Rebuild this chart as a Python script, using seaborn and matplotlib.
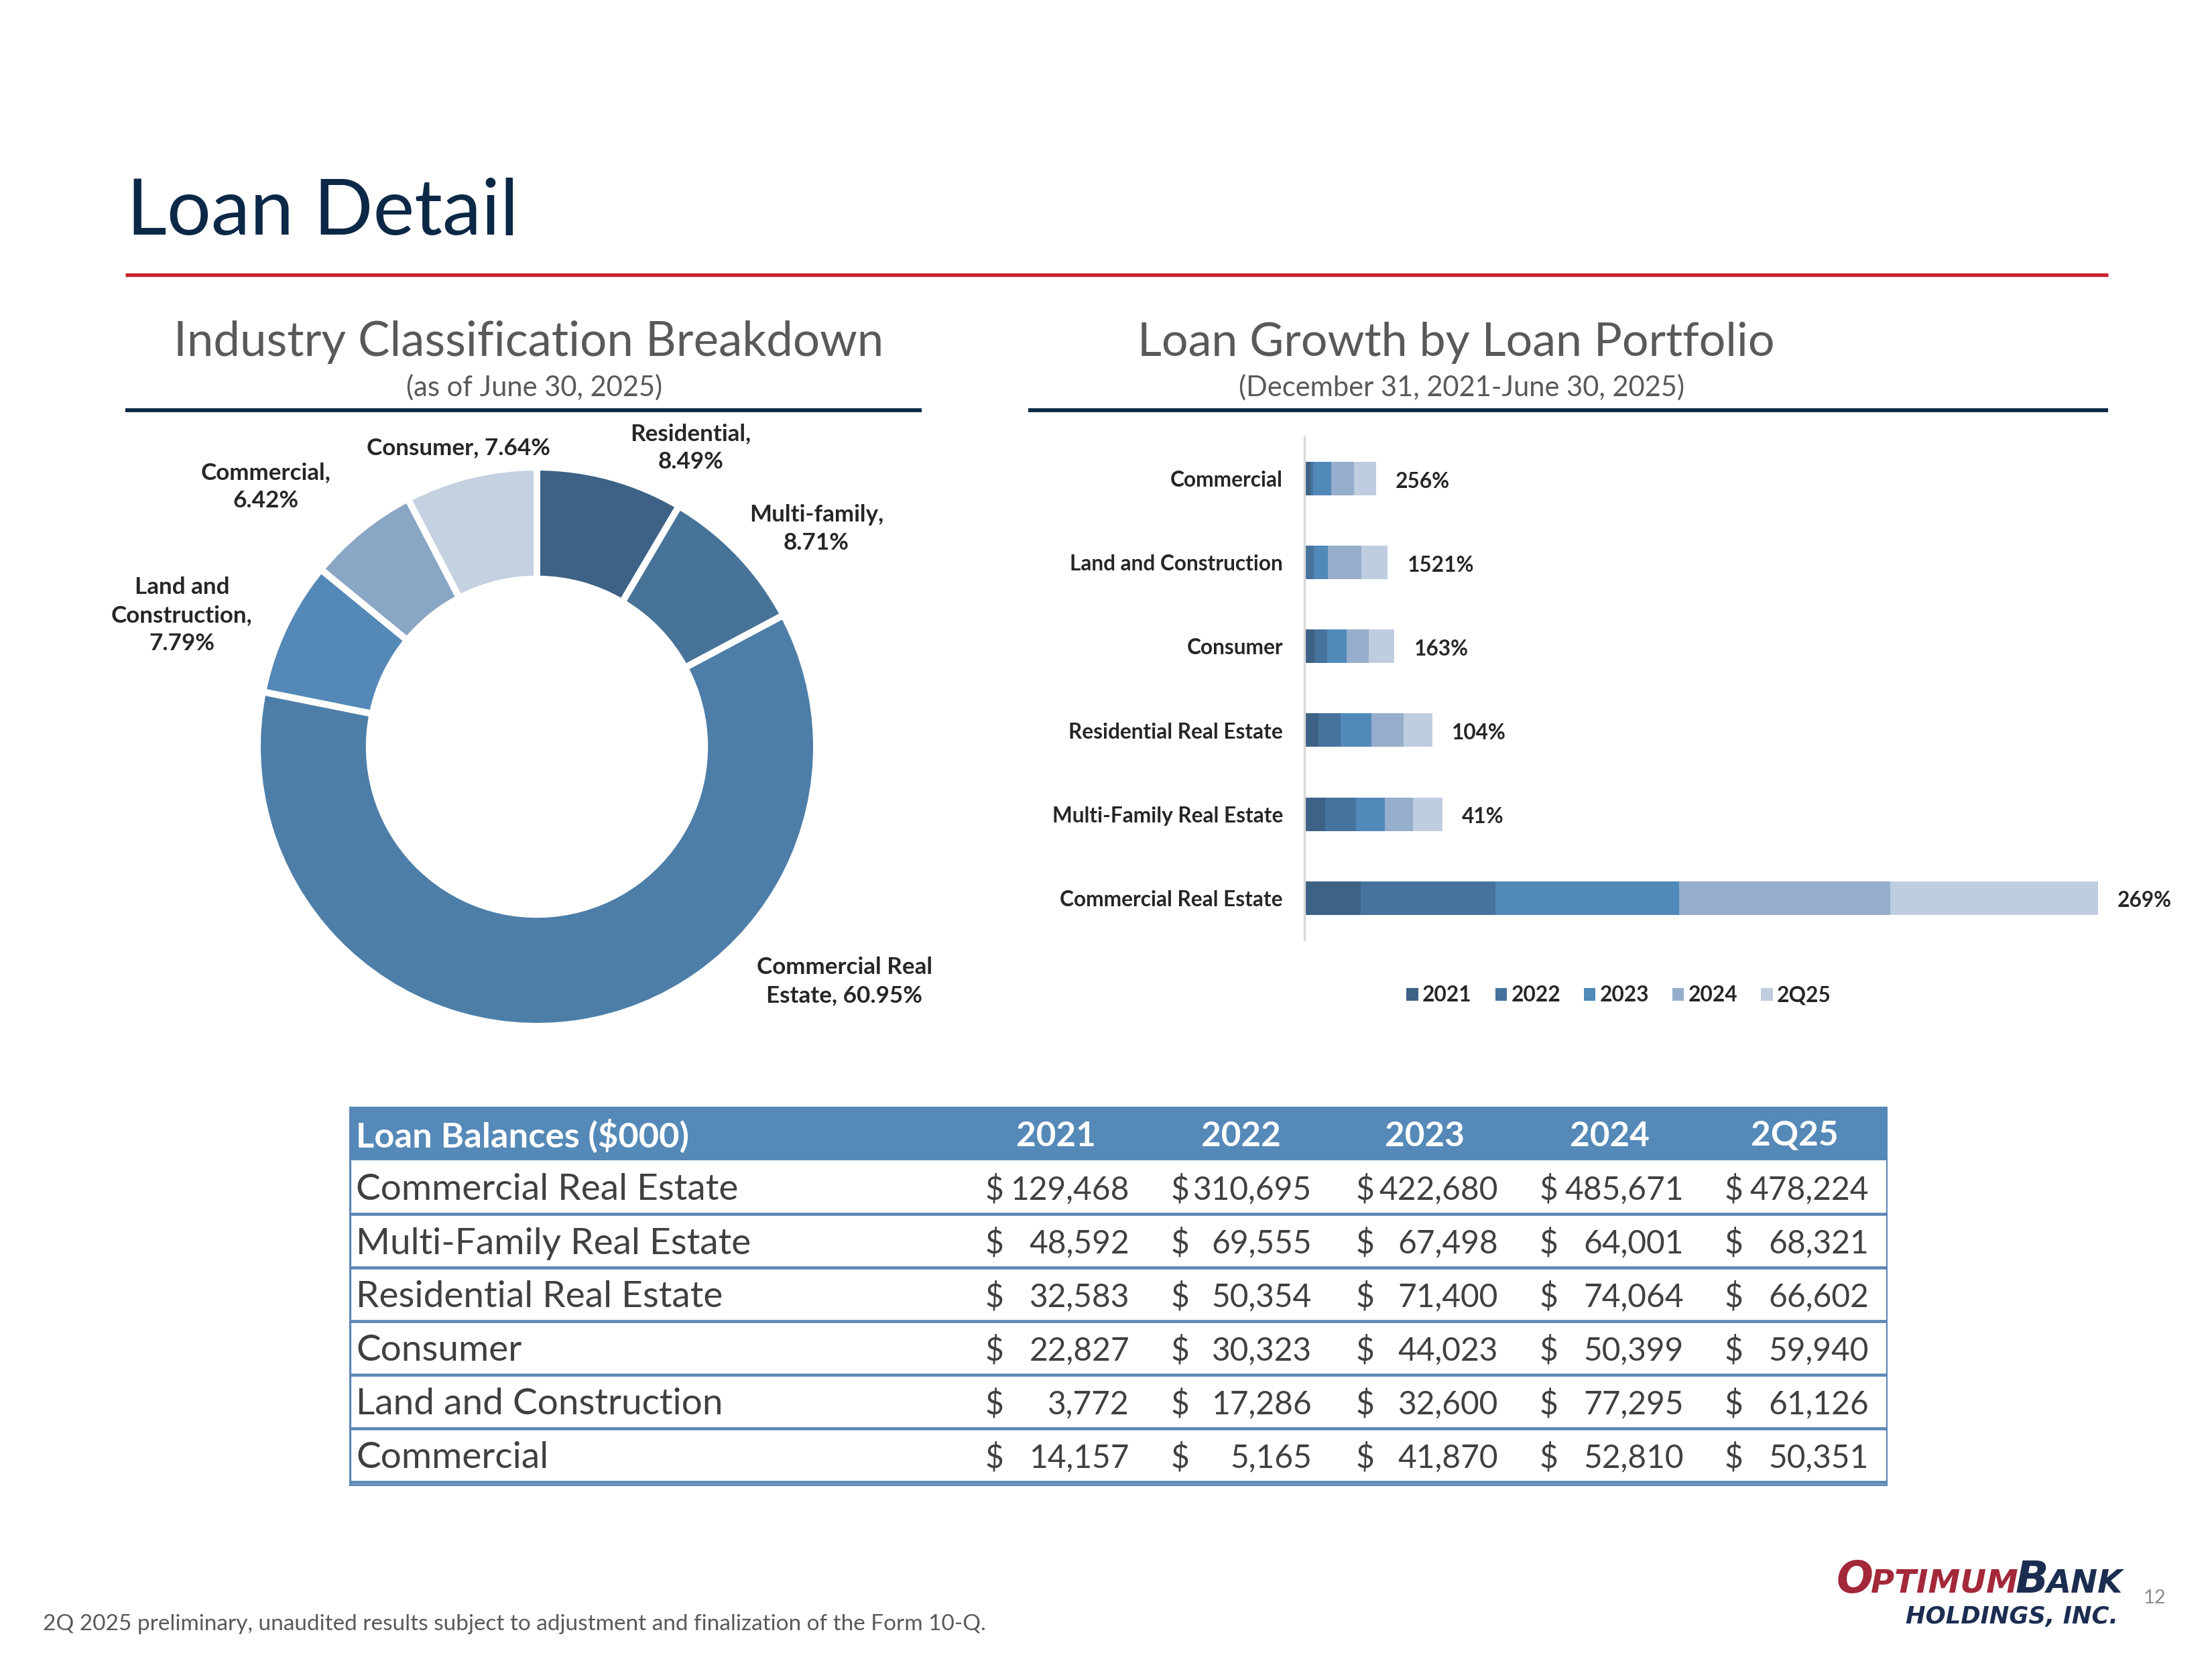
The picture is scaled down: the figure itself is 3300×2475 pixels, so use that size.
import pandas as pd
import seaborn as sns
import matplotlib.pyplot as plt
from matplotlib.lines import Line2D
from matplotlib.patches import Patch

W, H = 3300, 2475

# loan balances ($000), in table order
categories = ['Commercial Real Estate', 'Multi-Family Real Estate', 'Residential Real Estate',
              'Consumer', 'Land and Construction', 'Commercial']
periods = ['2021', '2022', '2023', '2024', '2Q25']
bal_2021 = [129468, 48592, 32583, 22827, 3772, 14157]
bal_2022 = [310695, 69555, 50354, 30323, 17286, 5165]
bal_2023 = [422680, 67498, 71400, 44023, 32600, 41870]
bal_2024 = [485671, 64001, 74064, 50399, 77295, 52810]
bal_2q25 = [478224, 68321, 66602, 59940, 61126, 50351]

# industry mix as of June 30, 2025 (clockwise from 12 o'clock)
mix_names = ['Residential,\n', 'Multi-family,\n', 'Commercial Real\nEstate, ',
             'Land and\nConstruction,\n', 'Commercial,\n', 'Consumer, ']
mix_pct = [8.49, 8.71, 60.95, 7.79, 6.42, 7.64]

mix_colors = ['#3d6285', '#477399', '#4d7ea8', '#5388b7', '#8aa6c5', '#c4d1e1']
period_colors = ['#3d6285', '#46739c', '#5189b9', '#95aecb', '#bfcde0']
# label spots around the donut, in radius units
mix_label_xy = [(0.55, 1.07), (1.00, 0.78), (1.10, -0.84), (-1.27, 0.47), (-0.97, 0.93), (-0.28, 1.07)]

sns.set_theme(style='white')
plt.rcParams['font.family'] = ['Lato', 'DejaVu Sans']
TXT = '#262626'

fig = plt.figure(figsize=(11, 8.25), dpi=300)


def fx(x):
    return x / W


def fy(y):
    return 1 - y / H


def hline(x0, x1, y, color, lw):
    fig.add_artist(Line2D([fx(x0), fx(x1)], [fy(y), fy(y)], transform=fig.transFigure,
                          color=color, lw=lw, solid_capstyle='butt'))


# header
fig.text(fx(189), fy(350), 'Loan Detail', fontsize=28, color='#0c2847', va='baseline')
hline(187, 3145, 410, '#c8202f', 1.3)

fig.text(fx(789), fy(531), 'Industry Classification Breakdown', fontsize=17, color='#595959',
         ha='center', va='baseline')
fig.text(fx(797), fy(591), '(as of June 30, 2025)', fontsize=10, color='#595959',
         ha='center', va='baseline')
hline(187, 1375, 612, '#0c2847', 1.4)

fig.text(fx(2172), fy(531), 'Loan Growth by Loan Portfolio', fontsize=16.8, color='#595959',
         ha='center', va='baseline')
fig.text(fx(2180), fy(591), '(December 31, 2021-June 30, 2025)', fontsize=10, color='#595959',
         ha='center', va='baseline')
hline(1534, 3145, 612, '#0c2847', 1.4)

# donut
cx, cy, r = 801, 1114, 417
axp = fig.add_axes([fx(cx - r), fy(cy + r), 2 * r / W, 2 * r / H])
axp.pie(mix_pct, colors=mix_colors, startangle=90, counterclock=False,
        wedgeprops=dict(width=0.4, edgecolor='white', linewidth=2.4))
axp.set_xlim(-1, 1)
axp.set_ylim(-1, 1)
for name, pct, (lx, ly) in zip(mix_names, mix_pct, mix_label_xy):
    axp.text(lx, ly, f'{name}{pct:.2f}%', ha='center', va='center', fontsize=8.4,
             fontweight='bold', color=TXT, linespacing=1.4, clip_on=False)

# stacked bars
df = pd.DataFrame({'category': categories, '2021': bal_2021, '2022': bal_2022,
                   '2023': bal_2023, '2024': bal_2024, '2Q25': bal_2q25})
cum = df[periods].cumsum(axis=1)
cum['category'] = df['category']
bar_order = categories[::-1]

axb = fig.add_axes([fx(1946), fy(1402), (3145 - 1946) / W, (1402 - 652) / H])
for per, col in reversed(list(zip(periods, period_colors))):
    sns.barplot(data=cum, x=per, y='category', order=bar_order, color=col, saturation=1,
                width=0.4, errorbar=None, linewidth=0, orient='h', ax=axb)
axb.set_xlim(0, 1.85e6)
axb.set_ylim(5.5, -0.5)
axb.set_xlabel('')
axb.set_ylabel('')
axb.set_xticks([])
for side in ['top', 'right', 'bottom']:
    axb.spines[side].set_visible(False)
axb.spines['left'].set_color('#d9d9d9')
axb.spines['left'].set_linewidth(0.8)
axb.tick_params(axis='y', length=0, pad=7.7)
for lab in axb.get_yticklabels():
    lab.set_fontweight('bold')
    lab.set_fontsize(7.6)
    lab.set_color(TXT)

growth = df.set_index('category')
totals = cum.set_index('category')['2Q25']
for i, cat in enumerate(bar_order):
    g = (growth.loc[cat, '2Q25'] / growth.loc[cat, '2021'] - 1) * 100
    axb.annotate(f'{g:.0f}%', xy=(totals[cat], i), xytext=(7, -1), textcoords='offset points',
                 ha='left', va='center', fontsize=7.6, fontweight='bold', color=TXT,
                 annotation_clip=False)

handles = [Patch(facecolor=c, edgecolor='none') for c in period_colors]
leg = fig.legend(handles, periods, loc='center', bbox_to_anchor=(fx(2415), fy(1485)), ncol=5,
                 frameon=False, handlelength=0.55, handleheight=0.55, handletextpad=0.2,
                 columnspacing=1.1, prop=dict(weight='bold', size=7.6))
for t in leg.get_texts():
    t.set_color(TXT)

# loan balance table
tab_blue = '#5589b8'
line_blue = '#5b87b5'
axt = fig.add_axes([fx(521), fy(2217), (2816 - 521) / W, (2217 - 1651) / H])
axt.set_xlim(521, 2816)
axt.set_ylim(7.075, 0)
axt.axis('off')
axt.axhspan(0, 1, color=tab_blue, lw=0)
for yl in [2, 3, 4, 5, 6, 7, 7.065]:
    axt.axhline(yl, color=line_blue, lw=1.1)
axt.axvline(522, color=line_blue, lw=0.8)
axt.axvline(2815, color=line_blue, lw=0.8)

year_x = [1575, 1851, 2125, 2401, 2677]
dollar_x = [1470, 1747, 2023, 2297, 2573]
num_x = [1685, 1957, 2235, 2512, 2788]
axt.text(531, 0.55, 'Loan Balances ($000)', ha='left', va='center', fontsize=12.6,
         fontweight='bold', color='white')
for per, xx in zip(periods, year_x):
    axt.text(xx, 0.55, per, ha='center', va='center', fontsize=12.3, fontweight='bold', color='white')

cols = [bal_2021, bal_2022, bal_2023, bal_2024, bal_2q25]
for i, cat in enumerate(categories):
    yy = i + 1.55
    axt.text(531, yy, cat, ha='left', va='center', fontsize=13.2, color='#404040')
    for vals, dx, nx in zip(cols, dollar_x, num_x):
        axt.text(dx, yy, '$', ha='left', va='center', fontsize=11.5, color='#404040')
        axt.text(nx, yy, f'{vals[i]:,}', ha='right', va='center', fontsize=11.5, color='#404040')

# footer
fig.text(fx(64), fy(2432), '2Q 2025 preliminary, unaudited results subject to adjustment and '
         'finalization of the Form 10-Q.', fontsize=8, color='#595959', va='baseline')
fig.text(fx(3215), fy(2384), '12', fontsize=7, color='#8c8c8c', ha='center', va='center')

# logo
fig.canvas.draw()
renderer = fig.canvas.get_renderer()
logo_parts = [('O', 15.5, '#a3283a'), ('PTIMUM', 11.5, '#a3283a'), ('B', 15.5, '#1c2d52'), ('ANK', 11.5, '#1c2d52')]
x = 2760
pieces = []
for txt, size, col in logo_parts:
    t = fig.text(fx(x), fy(2376), txt, fontsize=size, color=col, fontweight='bold',
                 fontstyle='italic', family='DejaVu Sans', va='baseline', ha='left')
    bb = t.get_window_extent(renderer)
    x = bb.x1 - 4
    pieces.append(t)
shift = 3162 - x
for t in pieces:
    px0, py0 = t.get_position()
    t.set_position((px0 + shift / W, py0))
fig.text(fx(3160), fy(2422), 'HOLDINGS, INC.', fontsize=8.5, color='#1c2d52', fontweight='bold',
         fontstyle='italic', family='DejaVu Sans', va='baseline', ha='right')

fig.savefig('out.png', dpi=300, facecolor='white')
